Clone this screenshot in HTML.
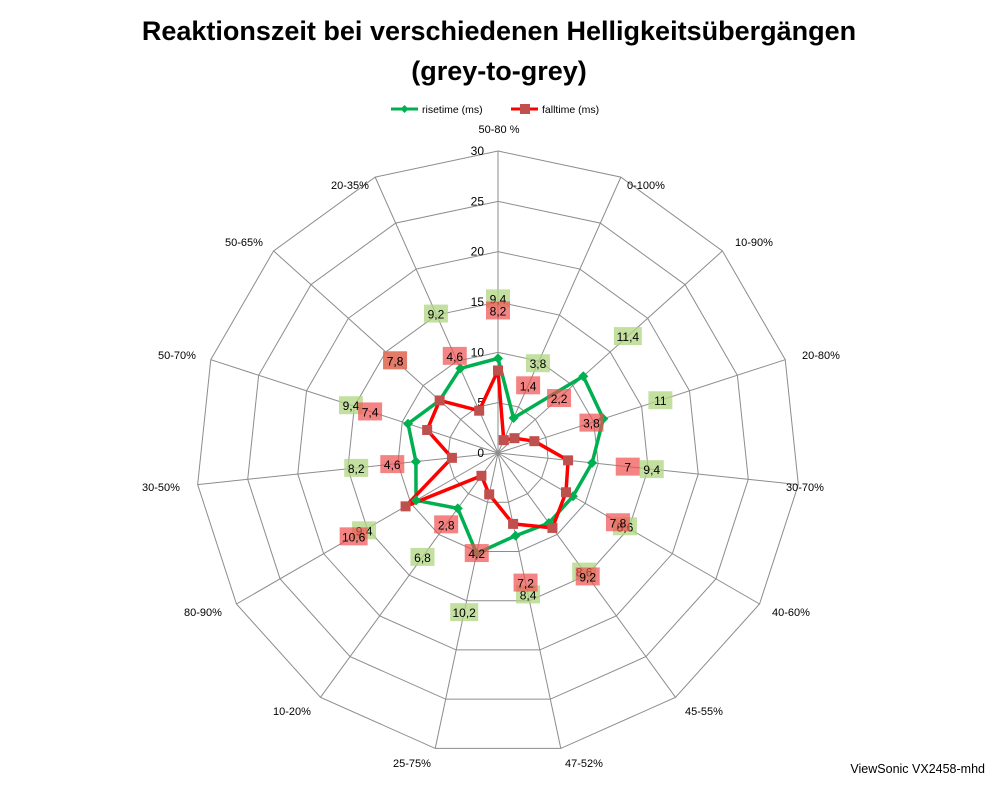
<!DOCTYPE html>
<html><head><meta charset="utf-8"><style>
body{margin:0;background:#fff;}
svg{display:block;font-family:"Liberation Sans",sans-serif;}
</style></head><body>
<svg id="s" width="998" height="786" xmlns="http://www.w3.org/2000/svg">
<text x="499" y="40" text-anchor="middle" font-size="27" font-weight="bold">Reaktionszeit bei verschiedenen Helligkeitsübergängen</text>
<text x="499" y="80" text-anchor="middle" font-size="27" font-weight="bold">(grey-to-grey)</text>
<line x1="391" y1="109" x2="418" y2="109" stroke="#00b050" stroke-width="3"/>
<path d="M404.5 105 L408.5 109 L404.5 113 L400.5 109Z" fill="#00b050"/>
<text x="422" y="113" font-size="10.5">risetime (ms)</text>
<line x1="511" y1="109" x2="538" y2="109" stroke="#ff0000" stroke-width="3"/>
<rect x="520" y="104" width="10" height="10" fill="#c0504d"/>
<text x="542" y="113" font-size="10.5">falltime (ms)</text>
<text x="985" y="773" text-anchor="end" font-size="12.5">ViewSonic VX2458-mhd</text>
<g id="g"></g>
</svg>
<script>
var cx=498,cy=453,R=302,N=15,ns="http://www.w3.org/2000/svg";
var g=document.getElementById('g');
function el(t,a,txt){var e=document.createElementNS(ns,t);for(var k in a)e.setAttribute(k,a[k]);if(txt!=null)e.textContent=txt;g.appendChild(e);return e;}
function pt(i,r){var a=i*2*Math.PI/N;return[cx+Math.sin(a)*r,cy-Math.cos(a)*r];}
for(var k=1;k<=6;k++){var p=[];for(var i=0;i<N;i++){p.push(pt(i,R*k/6).join(','));}el('polygon',{points:p.join(' '),fill:'none',stroke:'#8c8c8c','stroke-width':1});}
for(var i=0;i<N;i++){var q=pt(i,R);el('line',{x1:cx,y1:cy,x2:q[0],y2:q[1],stroke:'#8c8c8c','stroke-width':1});}
for(var k=0;k<=6;k++){el('text',{x:484,y:cy-R*k/6+4,'text-anchor':'end','font-size':12},String(k*5));}
var cats=[["50-80 %",499,129],["0-100%",646,185],["10-90%",754,242],["20-80%",821,355],["30-70%",805,487],["40-60%",791,612],["45-55%",704,711],["47-52%",584,763],["25-75%",412,763],["10-20%",292,711],["80-90%",203,612],["30-50%",161,487],["50-70%",177,355],["50-65%",244,242],["20-35%",350,185]];
cats.forEach(function(c){el('text',{x:c[1],y:c[2]+4,'text-anchor':'middle','font-size':11},c[0]);});
var rise=[9.4,3.8,11.4,11,9.4,8.6,8.6,8.4,10.2,6.8,9.4,8.2,9.4,7.8,9.2];
var fall=[8.2,1.4,2.2,3.8,7,7.8,9.2,7.2,4.2,2.8,10.6,4.6,7.4,7.8,4.6];
function series(d,col){var p=d.map(function(v,i){return pt(i,v*R/30).join(',');});el('polygon',{points:p.join(' '),fill:'none',stroke:col,'stroke-width':3.5,'stroke-linejoin':'round'});}
series(rise,'#00b050');series(fall,'#ff0000');
rise.forEach(function(v,i){var q=pt(i,v*R/30);el('path',{d:'M'+q[0]+' '+(q[1]-5)+' l5 5 l-5 5 l-5 -5z',fill:'#00b050'});});
fall.forEach(function(v,i){var q=pt(i,v*R/30);el('rect',{x:q[0]-5,y:q[1]-5,width:10,height:10,fill:'#c0504d'});});
function labels(d,fill){d.forEach(function(v,i){var q=pt(i,v*R/30+60);var s=String(v).replace('.',',');var w=s.length>3?28:24;el('rect',{x:q[0]-w/2,y:q[1]-9,width:w,height:18,fill:fill});el('text',{x:q[0],y:q[1]+5,'text-anchor':'middle','font-size':12},s);});}
labels(rise,'rgba(176,214,130,0.75)');labels(fall,'rgba(240,80,80,0.7)');
</script>
</body></html>
